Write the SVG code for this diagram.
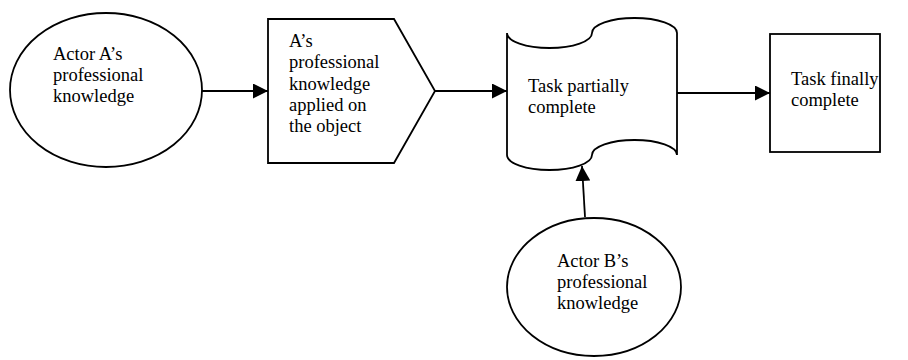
<svg xmlns="http://www.w3.org/2000/svg" width="908" height="360" viewBox="0 0 908 360">
<style>
.s{fill:#fff;stroke:#000;stroke-width:1.8}
.c{fill:none;stroke:#000;stroke-width:1.8}
</style>
<defs>
<marker id="ah" markerUnits="userSpaceOnUse" markerWidth="15" markerHeight="15" viewBox="0 0 14 14" refX="14" refY="7" orient="auto">
<path d="M0,0 L14,7 L0,14 Z" fill="#000"/>
</marker>
</defs>
<rect width="908" height="360" fill="#fff"/>
<g id="connectors">
<line class="c" x1="202" y1="91" x2="268" y2="91" marker-end="url(#ah)"/>
<line class="c" x1="435" y1="91" x2="507" y2="91" marker-end="url(#ah)"/>
<line class="c" x1="677" y1="93" x2="770" y2="93" marker-end="url(#ah)"/>
<line class="c" x1="585" y1="217" x2="582" y2="166" marker-end="url(#ah)"/>
</g>
<g id="actorA">
<ellipse class="s" cx="106" cy="90" rx="96" ry="77"/>
<g font-family="Liberation Serif" font-size="18.5" fill="#000">
<text x="53" y="60">Actor A’s</text>
<text x="53" y="81">professional</text>
<text x="53" y="102">knowledge</text>
</g>
</g>
<g id="applied">
<path class="s" d="M268,19 L394,19 L435,91 L394,163 L268,163 Z"/>
<g font-family="Liberation Serif" font-size="18.5" fill="#000">
<text x="289" y="47">A’s</text>
<text x="289" y="68">professional</text>
<text x="289" y="90">knowledge</text>
<text x="289" y="111">applied on</text>
<text x="289" y="132">the object</text>
</g>
</g>
<g id="partial">
<path class="s" d="M507,33 A42.5,15 0 0 0 592,33 A42.5,15 0 0 1 677,33 L677,155 A42.5,15 0 0 0 592,155 A42.5,15 0 0 1 507,155 Z"/>
<g font-family="Liberation Serif" font-size="18.5" fill="#000">
<text x="528" y="92">Task partially</text>
<text x="528" y="113">complete</text>
</g>
</g>
<g id="final">
<rect class="s" x="770" y="34" width="110" height="118"/>
<g font-family="Liberation Serif" font-size="18.5" fill="#000">
<text x="791" y="85">Task finally</text>
<text x="791" y="106">complete</text>
</g>
</g>
<g id="actorB">
<ellipse class="s" cx="594" cy="287" rx="87" ry="69"/>
<g font-family="Liberation Serif" font-size="18.5" fill="#000">
<text x="557" y="267">Actor B’s</text>
<text x="557" y="288">professional</text>
<text x="557" y="309">knowledge</text>
</g>
</g>
</svg>
